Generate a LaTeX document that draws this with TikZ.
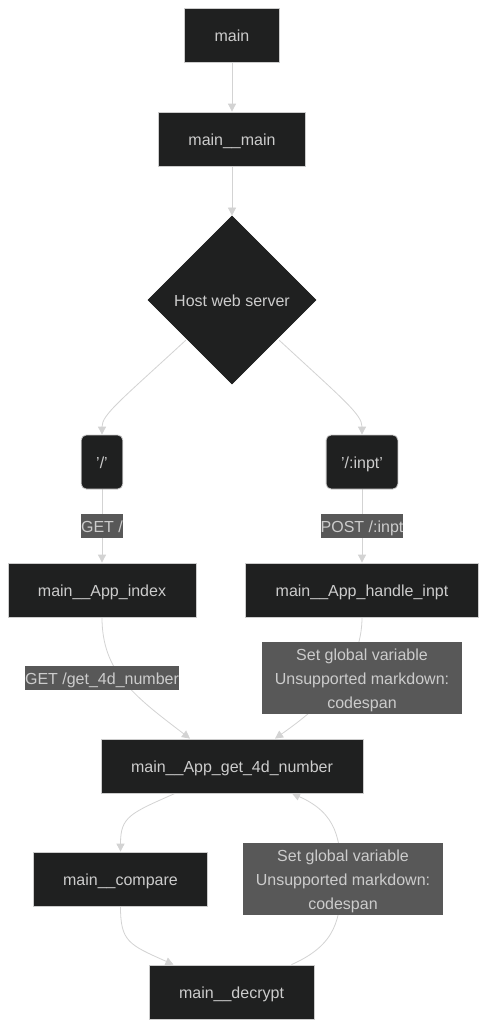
\documentclass[tikz,border=0pt]{standalone}
\usepackage{fontspec}
\setmainfont{Liberation Sans}
\usetikzlibrary{shapes.geometric,arrows.meta}
\definecolor{nodefill}{HTML}{1F2020}
\definecolor{nodeline}{HTML}{CCCCCC}
\definecolor{txt}{HTML}{CCCCCC}
\definecolor{edgec}{HTML}{D3D3D3}
\definecolor{lblfill}{HTML}{585858}
\pgfdeclarelayer{bg}
\pgfsetlayers{bg,main}
\newcommand{\mltext}[1]{\parbox[c][72pt][c]{200pt}{\centering\vspace{4pt}#1}}
\begin{document}
\begin{tikzpicture}[x=1pt,y=-1pt,
  font=\fontsize{16}{24}\selectfont,
  box/.style={draw=nodeline, line width=0.8pt, fill=nodefill, text=txt,
    minimum height=54, inner xsep=30, inner ysep=0, text height=16, text depth=3},
  rbox/.style={box, rounded corners=5, inner xsep=15},
  dbox/.style={shape=diamond, draw=nodefill, line width=0.8pt, fill=nodefill, text=txt,
    minimum width=168, minimum height=168, inner sep=0, text height=16, text depth=3},
  lbl/.style={fill=lblfill, text=txt, inner sep=0, minimum height=24, text height=14, text depth=2},
  mlbl/.style={fill=lblfill, text=txt, inner sep=0},
  edge/.style={draw=edgec, line width=0.8pt, -{Triangle[length=8pt,width=8pt]}}]
\useasboundingbox (0,0) rectangle (487,1028);
\begin{pgfonlayer}{bg}
\fill[white] (0,0) rectangle (487,1028);
\end{pgfonlayer}
\node[box] (m) at (232,35) {main};
\node[box] (mm) at (232,139) {main\_\_main};
\node[dbox] (hws) at (232,300) {Host web server};
\node[rbox, minimum width=40] (sl) at (102,462) {'/'};
\node[rbox, minimum width=70] (si) at (362,462) {'/:inpt'};
\node[lbl] (l1) at (102,526) {GET /};
\node[lbl] (l2) at (362,526) {POST /:inpt};
\node[box] (idx) at (102,590) {main\_\_App\_index};
\node[box] (hnd) at (362,590) {main\_\_App\_handle\_inpt};
\node[lbl] (l3) at (102,678) {GET /get\_4d\_number};
\node[mlbl] (s1) at (362,678) {\mltext{Set global variable\\Unsupported markdown:\\codespan}};
\node[box] (g4d) at (232,766) {main\_\_App\_get\_4d\_number};
\node[box] (cmp) at (120.5,879) {main\_\_compare};
\node[mlbl] (s2) at (343,879) {\mltext{Set global variable\\Unsupported markdown:\\codespan}};
\node[box] (dec) at (231.5,992) {main\_\_decrypt};
\begin{pgfonlayer}{bg}
\draw[edge] (m) -- (mm);
\draw[edge] (mm) -- (hws);
\draw[edge] ([shift={(-4,-2)}]hws.south west) .. controls +(-65,60) and +(0,-20) .. (sl.north);
\draw[edge] ([shift={(5,-2)}]hws.south east) .. controls +(65,60) and +(0,-20) .. (si.north);
\draw[edge] (sl) -- (idx);
\draw[edge] (si) -- (hnd);
\draw[edge] (idx.south) .. controls +(0,55) and +(-55,-42) .. ([xshift=-42]g4d.north);
\draw[edge] (hnd.south) .. controls +(0,50) and +(50,-35) .. ([xshift=43]g4d.north);
\draw[edge] ([xshift=-57]g4d.south) .. controls +(-45,20) and +(0,-35) .. (cmp.north);
\draw[edge] (cmp.south) .. controls +(0,35) and +(-45,-20) .. ([xshift=-58]dec.north);
\draw[edge] ([xshift=60]dec.north) .. controls +(45,-20) and +(0,40) .. ([xshift=-2]s2.center)
  .. controls +(0,-40) and +(45,20) .. ([xshift=60]g4d.south);
\end{pgfonlayer}
\end{tikzpicture}
\end{document}
